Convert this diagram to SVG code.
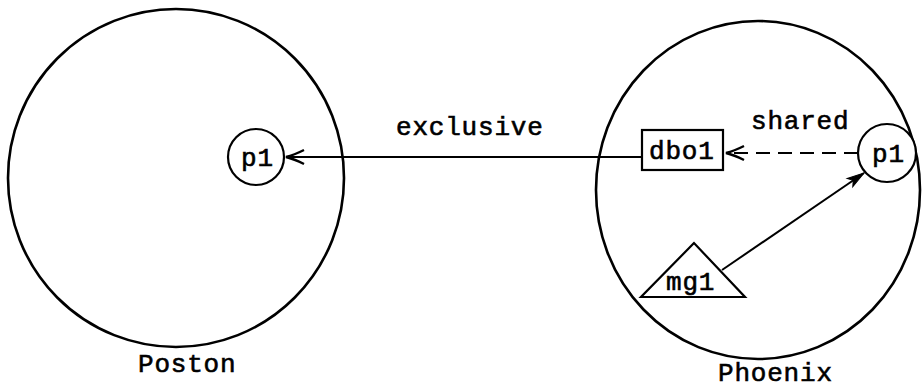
<svg xmlns="http://www.w3.org/2000/svg" width="922" height="391" viewBox="0 0 922 391">
<style>
.site{fill:none;stroke:#000;stroke-width:2.6}
.node{fill:#fff;stroke:#000;stroke-width:2.2}
.lbl{font-family:"Liberation Mono","DejaVu Sans Mono",monospace;font-size:26px;fill:#000;stroke:#000;stroke-width:0.6;letter-spacing:0.8px}
.edge{fill:none;stroke:#000;stroke-width:2}
.dash{stroke-dasharray:14 8}
</style>
<defs>
<marker id="vhead" markerUnits="userSpaceOnUse" viewBox="-22 -10 24 20" refX="0" refY="0" markerWidth="24" markerHeight="20" orient="auto">
<path d="M-18,-7 Q-8,-2 0,0 Q-8,2 -18,7" fill="none" stroke="#000" stroke-width="2.4"/>
</marker>
<marker id="fhead" markerUnits="userSpaceOnUse" viewBox="-22 -10 24 20" refX="0" refY="0" markerWidth="24" markerHeight="20" orient="auto">
<path d="M-17,-5 L0,0 L-17,5 L-13,0 Z" fill="#000" stroke="#000" stroke-width="1"/>
</marker>
</defs>
<g id="boston">
<ellipse class="site" cx="176" cy="178" rx="168" ry="169"/>
<text class="lbl" x="138" y="372">Poston</text>
</g>
<g id="phoenix">
<ellipse class="site" cx="758" cy="190" rx="162" ry="169"/>
<text class="lbl" x="718" y="381">Phoenix</text>
</g>
<g id="boston-p1">
<circle class="node" cx="256" cy="157" r="28"/>
<text class="lbl" x="241" y="166">p1</text>
</g>
<g id="dbo1">
<rect class="node" x="642" y="130" width="81" height="40"/>
<text class="lbl" x="649" y="159">dbo1</text>
</g>
<g id="phoenix-p1">
<circle class="node" cx="887" cy="153" r="29"/>
<text class="lbl" x="872" y="162">p1</text>
</g>
<g id="mg1">
<polygon class="node" points="694,243 641,297 745,297"/>
<text class="lbl" x="666" y="290">mg1</text>
</g>
<g id="connectors">
<line class="edge" x1="642" y1="157" x2="286" y2="157" marker-end="url(#vhead)"/>
<text class="lbl" x="396" y="135">exclusive</text>
<line class="edge dash" x1="858" y1="153" x2="726" y2="153" marker-end="url(#vhead)"/>
<text class="lbl" x="751" y="129">shared</text>
<line class="edge" x1="722" y1="270" x2="864" y2="173" marker-end="url(#fhead)"/>
</g>
</svg>
